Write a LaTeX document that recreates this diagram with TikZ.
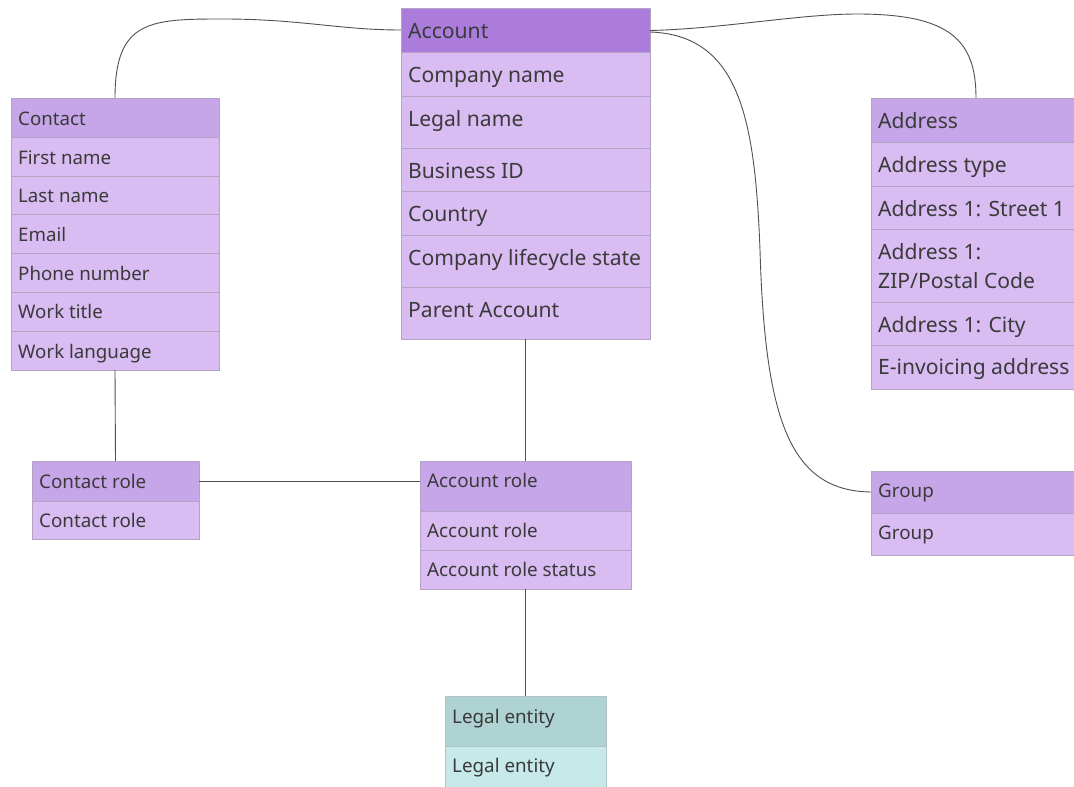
\documentclass[tikz,border=0pt]{standalone}
\usepackage{fontspec}
\setmainfont{Noto Sans}
\usetikzlibrary{calc}
\definecolor{hdrdark}{HTML}{AC7CDD}
\definecolor{hdr}{HTML}{C6A6E9}
\definecolor{rowc}{HTML}{D8BCF2}
\definecolor{tealhdr}{HTML}{AFD3D3}
\definecolor{tealrow}{HTML}{C7E9E9}
\definecolor{bordc}{HTML}{B4A4C4}
\definecolor{tealbord}{HTML}{B0C4C4}
\definecolor{txtc}{HTML}{3A3A3A}
\definecolor{linec}{HTML}{505050}
\newcommand\cellbox[8]{% name, x, top, width, bottom, style, baseline offset, text
  \node[#6, minimum width=#4pt, minimum height={(#5-#3)*1pt}, anchor=north west] (#1) at (#2,#3) {};
  \node[txt, anchor=base west] (#1-t) at (#2+7,#3+#7) {#8};
}
\begin{document}
\begin{tikzpicture}[x=1pt,y=-1pt,
  cellbase/.style={draw=bordc, line width=0.8pt, inner sep=0pt, outer sep=0pt, rectangle},
  hd/.style={cellbase, fill=hdr},
  hdd/.style={cellbase, fill=hdrdark},
  rw/.style={cellbase, fill=rowc},
  thd/.style={cellbase, draw=tealbord, fill=tealhdr},
  trw/.style={cellbase, draw=tealbord, fill=tealrow},
  txt/.style={text=txtc, inner sep=0pt, font=\fontsize{18.8}{22}\selectfont},
  conn/.style={draw=linec, line width=0.9pt}]
\clip (0,0) rectangle (1074,787);
\fill[white] (0,0) rectangle (1074,787);

% Account
\begin{scope}[txt/.append style={font=\fontsize{21.1}{29.5}\selectfont}]
\cellbox{account}{401}{8}{249}{52}{hdd}{30}{Account}
\cellbox{account-r1}{401}{52}{249}{96}{rw}{30}{Company name}
\cellbox{account-r2}{401}{96}{249}{148}{rw}{30}{Legal name}
\cellbox{account-r3}{401}{148}{249}{191}{rw}{30}{Business ID}
\cellbox{account-r4}{401}{191}{249}{235}{rw}{30}{Country}
\cellbox{account-r5}{401}{235}{249}{287}{rw}{30}{Company lifecycle state}
\cellbox{account-r6}{401}{287}{249}{339}{rw}{30}{Parent Account}
\end{scope}

% Address
\begin{scope}[txt/.append style={font=\fontsize{21.1}{29.5}\selectfont}]
\cellbox{address}{871}{98}{210}{142}{hd}{30}{Address}
\cellbox{address-r1}{871}{142}{210}{186}{rw}{30}{Address type}
\cellbox{address-r2}{871}{186}{210}{229}{rw}{30}{Address 1: Street 1}
\cellbox{address-r3}{871}{229}{210}{302}{rw}{30}{\begin{tabular}[t]{@{}l@{}}Address 1:\\ZIP/Postal Code\end{tabular}}
\cellbox{address-r4}{871}{302}{210}{345}{rw}{30}{Address 1: City}
\cellbox{address-r5}{871}{345}{210}{389}{rw}{29}{E-invoicing address}
\end{scope}

% Contact
\begin{scope}[txt/.append style={font=\fontsize{18.7}{22}\selectfont}]
\cellbox{contact}{11}{98}{208}{137}{hd}{27}{Contact}
\cellbox{contact-r1}{11}{137}{208}{176}{rw}{27}{First name}
\cellbox{contact-r2}{11}{176}{208}{214}{rw}{26.5}{Last name}
\cellbox{contact-r3}{11}{214}{208}{253}{rw}{27}{Email}
\cellbox{contact-r4}{11}{253}{208}{292}{rw}{27}{Phone number}
\cellbox{contact-r5}{11}{292}{208}{331}{rw}{26.5}{Work title}
\cellbox{contact-r6}{11}{331}{208}{370}{rw}{27}{Work language}
\end{scope}

% Contact role
\cellbox{conrole}{32}{461}{167}{501}{hd}{27}{Contact role}
\cellbox{conrole-r1}{32}{501}{167}{539}{rw}{26.5}{Contact role}

% Account role
\cellbox{accrole}{420}{461}{211}{511}{hd}{26.7}{Account role}
\cellbox{accrole-r1}{420}{511}{211}{550}{rw}{26.3}{Account role}
\cellbox{accrole-r2}{420}{550}{211}{589}{rw}{26.7}{Account role status}

% Group
\cellbox{group}{871}{471}{210}{513}{hd}{26.7}{Group}
\cellbox{group-r1}{871}{513}{210}{555}{rw}{26}{Group}

% Legal entity
\cellbox{legal}{445}{696}{161}{746}{thd}{27.3}{Legal entity}
\cellbox{legal-r1}{445}{746}{161}{795}{trw}{26}{Legal entity}

% connectors
\draw[conn] (contact.north) .. controls (115,20) and (150,19) .. (223,19)
  .. controls (300,19) and (340,30) .. (account.west);
\draw[conn] ([yshift=-0.5pt]account.east) .. controls (720,29) and (800,14) .. (857,14)
  .. controls (950,14) and (976,40) .. (address.north);
\draw[conn] ([yshift=-2pt]account.east) .. controls (740,35) and (755,120) .. (760,250)
  .. controls (765,420) and (790,491) .. (group.west);
\draw[conn] (account-r6.south) -- (accrole.north);
\draw[conn] (contact-r6.south) -- (conrole.north);
\draw[conn] (conrole.east) -- (conrole.east -| accrole.west);
\draw[conn] (accrole-r2.south) -- (legal.north);
\end{tikzpicture}
\end{document}
